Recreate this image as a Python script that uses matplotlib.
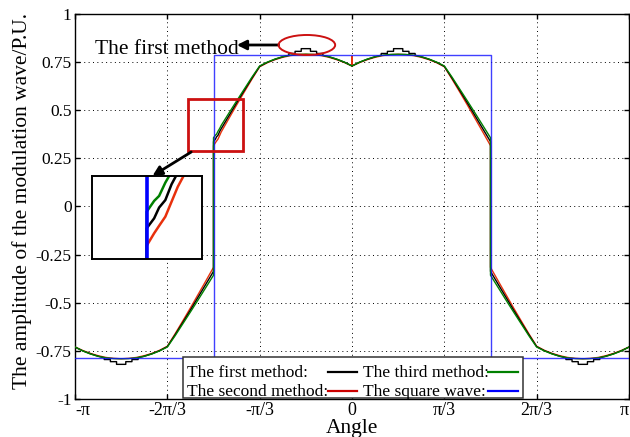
import numpy as np
import matplotlib
matplotlib.use("Agg")
import matplotlib.pyplot as plt
from matplotlib.patches import Ellipse, Rectangle
from matplotlib.lines import Line2D

plt.rcParams['font.family'] = ['Liberation Serif', 'DejaVu Serif']
plt.rcParams['axes.unicode_minus'] = False

# ---- data (angle in degrees, amplitude in P.U.) ----
first_angle = [-180, -175, -170, -165, -161, -161, -157, -157, -153, -153, -147, -147,
               -143, -143, -139, -139, -135, -130, -125, -120, -115, -110, -105, -100,
               -95, -90, -90, -88.8, -88, -87, -86, -85, -80, -75, -70, -65, -60, -55,
               -50, -45, -41, -41, -37, -37, -33, -33, -27, -27, -23, -23, -19, -19,
               -15, -10, -5, 0, 5, 10, 15, 19, 19, 23, 23, 27, 27, 33, 33, 37, 37,
               41, 41, 45, 50, 55, 60, 65, 70, 75, 80, 85, 90, 90, 95, 100, 105, 110,
               115, 120, 125, 130, 135, 139, 139, 143, 143, 147, 147, 153, 153, 157,
               157, 161, 161, 165, 170, 175, 180]
first_value = [-.730, -.750, -.765, -.778, -.786, -.795, -.795, -.806, -.806, -.820, -.820, -.806,
               -.806, -.795, -.795, -.786, -.778, -.765, -.749, -.728, -.667, -.603, -.538, -.471,
               -.404, -.337, .337, .349, .362, .371, .390, .404, .471, .538, .603, .667, .728, .749,
               .765, .778, .786, .795, .795, .806, .806, .820, .820, .806, .806, .795, .795, .786,
               .778, .765, .750, .730, .750, .765, .778, .786, .795, .795, .806, .806, .820, .820, .806, .806, .795,
               .795, .786, .778, .765, .749, .728, .667, .603, .538, .471, .404, .337, -.337, -.404, -.471, -.538, -.603,
               -.667, -.728, -.749, -.765, -.778, -.786, -.795, -.795, -.806, -.806, -.820, -.820, -.806, -.806,
               -.795, -.795, -.786, -.778, -.765, -.750, -.730]

second_angle = [-180, -175, -170, -165, -160, -155, -150, -145, -140, -135, -130, -125,
                -120, -115, -110, -105, -100, -95, -90, -90, -88.8, -88, -87, -86, -85,
                -80, -75, -70, -65, -60, -55, -50, -45, -40, -35, -30, -25, -20, -15,
                -10, -5, 0, 0, 0, 5, 10, 15, 20, 25, 30, 35, 40, 45, 50, 55, 60, 65,
                70, 75, 80, 85, 90, 90, 95, 100, 105, 110, 115, 120, 125, 130, 135,
                140, 145, 150, 155, 160, 165, 170, 175, 180]
second_value = [-.730, -.748, -.763, -.775, -.784, -.789, -.791, -.789, -.784, -.775, -.763, -.747,
                -.726, -.662, -.595, -.527, -.457, -.387, -.316, .316, .331, .340, .351, .369, .387,
                .457, .527, .595, .662, .726, .747, .763, .775, .784, .789, .791, .789, .784, .775,
                .763, .748, .730, .780, .730, .748, .763, .775, .784, .789, .791, .789, .784, .775, .763, .747, .726, .662,
                .595, .527, .457, .387, .316, -.316, -.387, -.457, -.527, -.595, -.662, -.726, -.747, -.763, -.775,
                -.784, -.789, -.791, -.789, -.784, -.775, -.763, -.748, -.730]

third_angle = [-180, -175, -170, -165, -160, -155, -150, -145, -140, -135, -130, -125,
               -120, -115, -110, -105, -100, -95, -90, -90, -88.8, -88, -87, -86, -85,
               -80, -75, -70, -65, -60, -55, -50, -45, -40, -35, -30, -25, -20, -15,
               -10, -5, 0, 5, 10, 15, 20, 25, 30, 35, 40, 45, 50, 55, 60, 65,
               70, 75, 80, 85, 90, 90, 95, 100, 105, 110, 115, 120, 125, 130, 135,
               140, 145, 150, 155, 160, 165, 170, 175, 180]
third_value = [-.730, -.750, -.766, -.778, -.786, -.790, -.791, -.790, -.786, -.778, -.766, -.750,
               -.730, -.672, -.610, -.548, -.485, -.421, -.357, .357, .370, .376, .392, .405, .421,
               .485, .548, .610, .672, .730, .750, .766, .778, .786, .790, .791, .790, .786, .778,
               .766, .750, .730, .750, .766, .778, .786, .790, .791, .790, .786, .778, .766, .750, .730, .672,
               .610, .548, .485, .421, .357, -.357, -.421, -.485, -.548, -.610, -.672, -.730, -.750, -.766, -.778,
               -.786, -.790, -.791, -.790, -.786, -.778, -.766, -.750, -.730]

square_angle = [-180, -90, -90, 90, 90, 180]
square_value = [-0.785, -0.785, 0.785, 0.785, -0.785, -0.785]

ytick_values = [1, 0.75, 0.5, 0.25, 0, -0.25, -0.5, -0.75, -1]
ytick_labels = ['1', '0.75', '0.5', '0.25', '0', '-0.25', '-0.5', '-0.75', '-1']
xtick_labels = ['-π', '-2π/3', '-π/3', '0', 'π/3', '2π/3', 'π']

BLACK, RED, GREEN, BLUE = '#000000', '#e8300c', '#008000', '#1010ff'
MARK = '#cc1111'

rad = np.deg2rad
fig = plt.figure(figsize=(6.3, 4.37), dpi=100)
ax = fig.add_axes([75 / 630, 38 / 437, 554 / 630, 385 / 437])

ax.plot(rad(second_angle), second_value, color=RED, lw=1.0, zorder=3)
ax.plot(rad(first_angle), first_value, color=BLACK, lw=1.0, zorder=4)
ax.plot(rad(third_angle), third_value, color=GREEN, lw=1.0, zorder=5)
ax.plot(rad(square_angle), square_value, color=BLUE, lw=1.0, alpha=0.8, zorder=6)

ax.set_xlim(-np.pi, np.pi)
ax.set_ylim(-1, 1)
xt = np.arange(-3, 4) * np.pi / 3
ax.set_xticks(xt)
ax.set_xticklabels(xtick_labels, fontsize=13)
ax.get_xticklabels()[0].set_ha('left')
ax.get_xticklabels()[-1].set_ha('right')
ax.set_yticks(ytick_values)
ax.set_yticklabels(ytick_labels, fontsize=12.5)
ax.tick_params(direction='in', length=3.6, width=1.0, top=True, right=True, pad=2.5)
ax.grid(True, color='k', linestyle=(0, (1, 3.5)), linewidth=0.7)
for s in ax.spines.values():
    s.set_linewidth(1.0)

# annotations
ax.text(-2.916, 0.792, 'The first method', fontsize=15.5, ha='left', va='baseline', zorder=8)
ax.annotate('', xy=(-1.306, 0.839), xytext=(-0.833, 0.839),
            arrowprops=dict(arrowstyle='-|>', color='k', lw=2.0, mutation_scale=14,
                            shrinkA=0, shrinkB=0), zorder=8)
ax.add_patch(Ellipse((-0.512, 0.839), 0.642, 0.104, fill=False, edgecolor=MARK, lw=1.4, zorder=8))
ax.add_patch(Rectangle((-1.861, 0.288), 0.623, 0.269, fill=False, edgecolor=MARK, lw=2.0, zorder=8))
ax.annotate('', xy=(-2.263, 0.159), xytext=(-1.824, 0.283),
            arrowprops=dict(arrowstyle='-|>', color='k', lw=2.0, mutation_scale=14,
                            shrinkA=0, shrinkB=0), zorder=9, annotation_clip=False)

# legend box with labels placed before their line samples
ax.add_patch(Rectangle((0.1946, 0.0026), 0.6144, 0.1065, transform=ax.transAxes,
                       facecolor='white', edgecolor='#333333', lw=1.1, zorder=10))
legend_rows = [
    ('The first method:', 0.2018, 0.0571, [0.4559, 0.5099], 0.0701, BLACK),
    ('The second method:', 0.2018, 0.0078, [0.4559, 0.5099], 0.0208, '#cc0000'),
    ('The third method:', 0.519, 0.0571, [0.746, 0.800], 0.0701, GREEN),
    ('The square wave:', 0.519, 0.0078, [0.746, 0.800], 0.0208, '#0000ff'),
]
for label, tx, ty, lx, ly, col in legend_rows:
    ax.text(tx, ty, label, transform=ax.transAxes, fontsize=12.5, ha='left', va='baseline', zorder=11)
    ax.add_line(Line2D(lx, [ly, ly], transform=ax.transAxes, color=col, lw=1.6, zorder=11))

fig.text(22 / 630, 1 - 201 / 437, 'The amplitude of the modulation wave/P.U.', rotation=90,
         ha='center', va='center', fontsize=15.5)
fig.text(352 / 630, 1 - 428 / 437, 'Angle', ha='center', va='center', fontsize=15.5)

# magnified view around the jump at -pi/2
ins = fig.add_axes([92 / 630, 178 / 437, 110 / 630, 83 / 437])
ins.plot(rad(second_angle), second_value, color=RED, lw=1.8)
ins.plot(rad(first_angle), first_value, color=BLACK, lw=1.8)
ins.plot(rad(third_angle), third_value, color=GREEN, lw=1.8)
ins.plot(rad(square_angle), square_value, color='#0000ff', lw=2.6)
ins.set_xlim(rad(-98.8), rad(-81.1))
ins.set_ylim(0.30, 0.40)
ins.set_xticks([])
ins.set_yticks([])
for s in ins.spines.values():
    s.set_linewidth(1.4)

fig.savefig('out.png', dpi=100)
